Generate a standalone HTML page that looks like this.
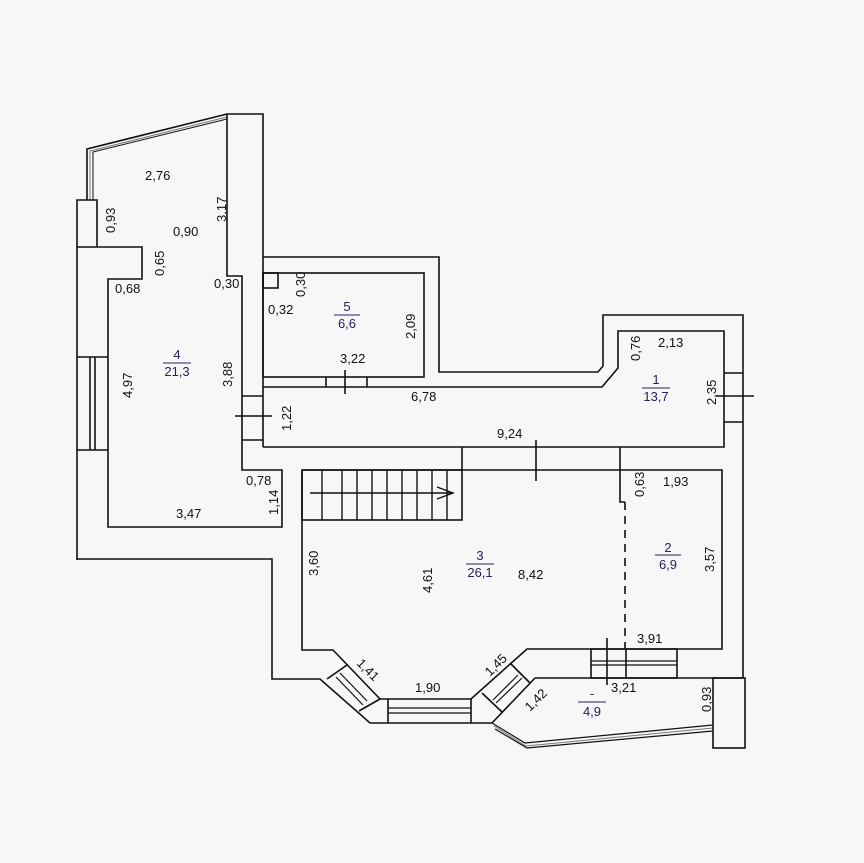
<!DOCTYPE html>
<html><head><meta charset="utf-8"><style>
html,body{margin:0;padding:0;background:#f7f7f7;}
svg{display:block}
text{font-family:"Liberation Sans",sans-serif;font-size:13px;fill:#111;}
.b{fill:#23235f;}
</style></head><body>
<svg width="864" height="863" viewBox="0 0 864 863" xmlns="http://www.w3.org/2000/svg">
<rect width="864" height="863" fill="#f7f7f7"/>
<g fill="none" stroke="#111" stroke-width="1.6">
<!-- room 4 -->
<polyline points="87,200 87,149 227,114"/>
<polyline points="90,200 90,151 227,117" stroke="#777" stroke-width="1"/>
<polyline points="93,200 93,152 227,119" stroke-width="1"/>
<polyline points="77,560 77,200 97,200 97,247"/>
<polyline points="77,247 142,247 142,279 108,279 108,527 282,527 282,470 242,470 242,276 227,276 227,114 263,114 263,447"/>
<line x1="77" y1="357" x2="108" y2="357"/><line x1="77" y1="450" x2="108" y2="450"/>
<line x1="90" y1="357" x2="90" y2="450"/><line x1="95" y1="357" x2="95" y2="450"/>
<polyline points="77,559 272,559 272,679 320,679 370,723 492,723"/>
<!-- left corridor door -->
<line x1="242" y1="396" x2="263" y2="396"/><line x1="242" y1="440" x2="263" y2="440"/>
<line x1="235" y1="416" x2="272" y2="416"/>
<!-- room 5 -->
<polyline points="263,257 439,257 439,372 598,372 603,366 603,315 743,315 743,678"/>
<rect x="263" y="273" width="161" height="104"/>
<rect x="263" y="273" width="15" height="15"/>
<line x1="326" y1="377" x2="326" y2="387"/><line x1="367" y1="377" x2="367" y2="387"/>
<line x1="345" y1="370" x2="345" y2="394"/>
<!-- room 1 / corridor -->
<polyline points="263,387 602,387 618,368 618,331 724,331 724,447 263,447"/>
<line x1="724" y1="373" x2="743" y2="373"/><line x1="724" y1="422" x2="743" y2="422"/>
<line x1="716" y1="396" x2="754" y2="396"/>
<!-- room 3 -->
<polyline points="302,470 722,470 722,649 527,649 471,699 380,699 333,650 302,650 302,470"/>
<line x1="462" y1="447" x2="462" y2="470"/>
<line x1="620" y1="447" x2="620" y2="470"/>
<polyline points="620,470 620,502 625,502"/>
<line x1="536" y1="440" x2="536" y2="481"/>
<line x1="625" y1="502" x2="625" y2="649" stroke-dasharray="8,6"/>
<line x1="626" y1="649" x2="626" y2="678"/>
<line x1="607" y1="638" x2="607" y2="685"/>
<!-- stairs -->
<rect x="302" y="470" width="160" height="50"/>
<g stroke-width="1.4">
<line x1="322" y1="470" x2="322" y2="520"/><line x1="342" y1="470" x2="342" y2="520"/>
<line x1="357" y1="470" x2="357" y2="520"/><line x1="372" y1="470" x2="372" y2="520"/>
<line x1="387" y1="470" x2="387" y2="520"/><line x1="402" y1="470" x2="402" y2="520"/>
<line x1="417" y1="470" x2="417" y2="520"/><line x1="432" y1="470" x2="432" y2="520"/>
<line x1="447" y1="470" x2="447" y2="520"/>
<line x1="310" y1="493" x2="453" y2="493"/><polyline points="437,487 453,493 437,499"/>
</g>
<!-- bay windows -->
<line x1="347" y1="665" x2="327" y2="679"/><line x1="380" y1="699" x2="359" y2="711"/>
<line x1="336" y1="677" x2="363" y2="705" stroke-width="1.2"/><line x1="340" y1="673" x2="367" y2="701" stroke-width="1.2"/>
<line x1="388" y1="699" x2="388" y2="723"/><line x1="471" y1="699" x2="471" y2="723"/>
<line x1="388" y1="708" x2="471" y2="708" stroke-width="1.2"/><line x1="388" y1="713" x2="471" y2="713" stroke-width="1.2"/>
<line x1="492" y1="723" x2="535" y2="678"/>
<line x1="510" y1="663" x2="530" y2="683"/><line x1="482" y1="693" x2="502" y2="712"/>
<line x1="493" y1="700" x2="518" y2="675" stroke-width="1.2"/><line x1="496" y1="703" x2="522" y2="678" stroke-width="1.2"/>
<line x1="535" y1="678" x2="743" y2="678"/>
<rect x="591" y="649" width="86" height="29"/>
<line x1="591" y1="661" x2="677" y2="661" stroke-width="1.2"/><line x1="591" y1="665" x2="677" y2="665" stroke-width="1.2"/>
<!-- glass bottom -->
<polyline points="492,723 525,743 713,725" stroke-width="1.2"/>
<polyline points="494,726 526,746 713,728" stroke="#777" stroke-width="1"/>
<polyline points="495,729 527,748 713,731" stroke-width="1.2"/>
<rect x="713" y="678" width="32" height="70"/>
</g>
<g>
<text x="145" y="180">2,76</text>
<text x="173" y="236">0,90</text>
<text transform="translate(115,233) rotate(-90)">0,93</text>
<text transform="translate(164,276) rotate(-90)">0,65</text>
<text x="115" y="293">0,68</text>
<text x="214" y="288">0,30</text>
<text transform="translate(226,222) rotate(-90)">3,17</text>
<text transform="translate(305,297) rotate(-90)">0,30</text>
<text x="268" y="314">0,32</text>
<text transform="translate(415,339) rotate(-90)">2,09</text>
<text x="340" y="363">3,22</text>
<text x="411" y="401">6,78</text>
<text transform="translate(132,398) rotate(-90)">4,97</text>
<text transform="translate(232,387) rotate(-90)">3,88</text>
<text transform="translate(291,431) rotate(-90)">1,22</text>
<text x="246" y="485">0,78</text>
<text transform="translate(278,515) rotate(-90)">1,14</text>
<text x="176" y="518">3,47</text>
<text x="497" y="438">9,24</text>
<text transform="translate(640,361) rotate(-90)">0,76</text>
<text x="658" y="347">2,13</text>
<text transform="translate(716,405) rotate(-90)">2,35</text>
<text transform="translate(644,497) rotate(-90)">0,63</text>
<text x="663" y="486">1,93</text>
<text transform="translate(714,572) rotate(-90)">3,57</text>
<text transform="translate(318,576) rotate(-90)">3,60</text>
<text transform="translate(432,593) rotate(-90)">4,61</text>
<text x="518" y="579">8,42</text>
<text x="637" y="643">3,91</text>
<text x="611" y="692">3,21</text>
<text transform="translate(711,712) rotate(-90)">0,93</text>
<text x="415" y="692">1,90</text>
<text transform="translate(356,664) rotate(45)">1,41</text>
<text transform="translate(490,677) rotate(-45)">1,45</text>
<text transform="translate(530,712) rotate(-45)">1,42</text>
<text class="b" x="177" y="359" text-anchor="middle">4</text>
<line x1="163" y1="363" x2="191" y2="363" stroke="#23235f" stroke-width="1"/>
<text class="b" x="177" y="376" text-anchor="middle">21,3</text>
<text class="b" x="347" y="311" text-anchor="middle">5</text>
<line x1="334" y1="315" x2="360" y2="315" stroke="#23235f" stroke-width="1"/>
<text class="b" x="347" y="328" text-anchor="middle">6,6</text>
<text class="b" x="656" y="384" text-anchor="middle">1</text>
<line x1="642" y1="388" x2="670" y2="388" stroke="#23235f" stroke-width="1"/>
<text class="b" x="656" y="401" text-anchor="middle">13,7</text>
<text class="b" x="480" y="560" text-anchor="middle">3</text>
<line x1="466" y1="564" x2="494" y2="564" stroke="#23235f" stroke-width="1"/>
<text class="b" x="480" y="577" text-anchor="middle">26,1</text>
<text class="b" x="668" y="552" text-anchor="middle">2</text>
<line x1="655" y1="555" x2="681" y2="555" stroke="#23235f" stroke-width="1"/>
<text class="b" x="668" y="569" text-anchor="middle">6,9</text>
<text class="b" x="592" y="698" text-anchor="middle">-</text>
<line x1="578" y1="702" x2="606" y2="702" stroke="#23235f" stroke-width="1"/>
<text class="b" x="592" y="716" text-anchor="middle">4,9</text>
</g>
</svg>
</body></html>
